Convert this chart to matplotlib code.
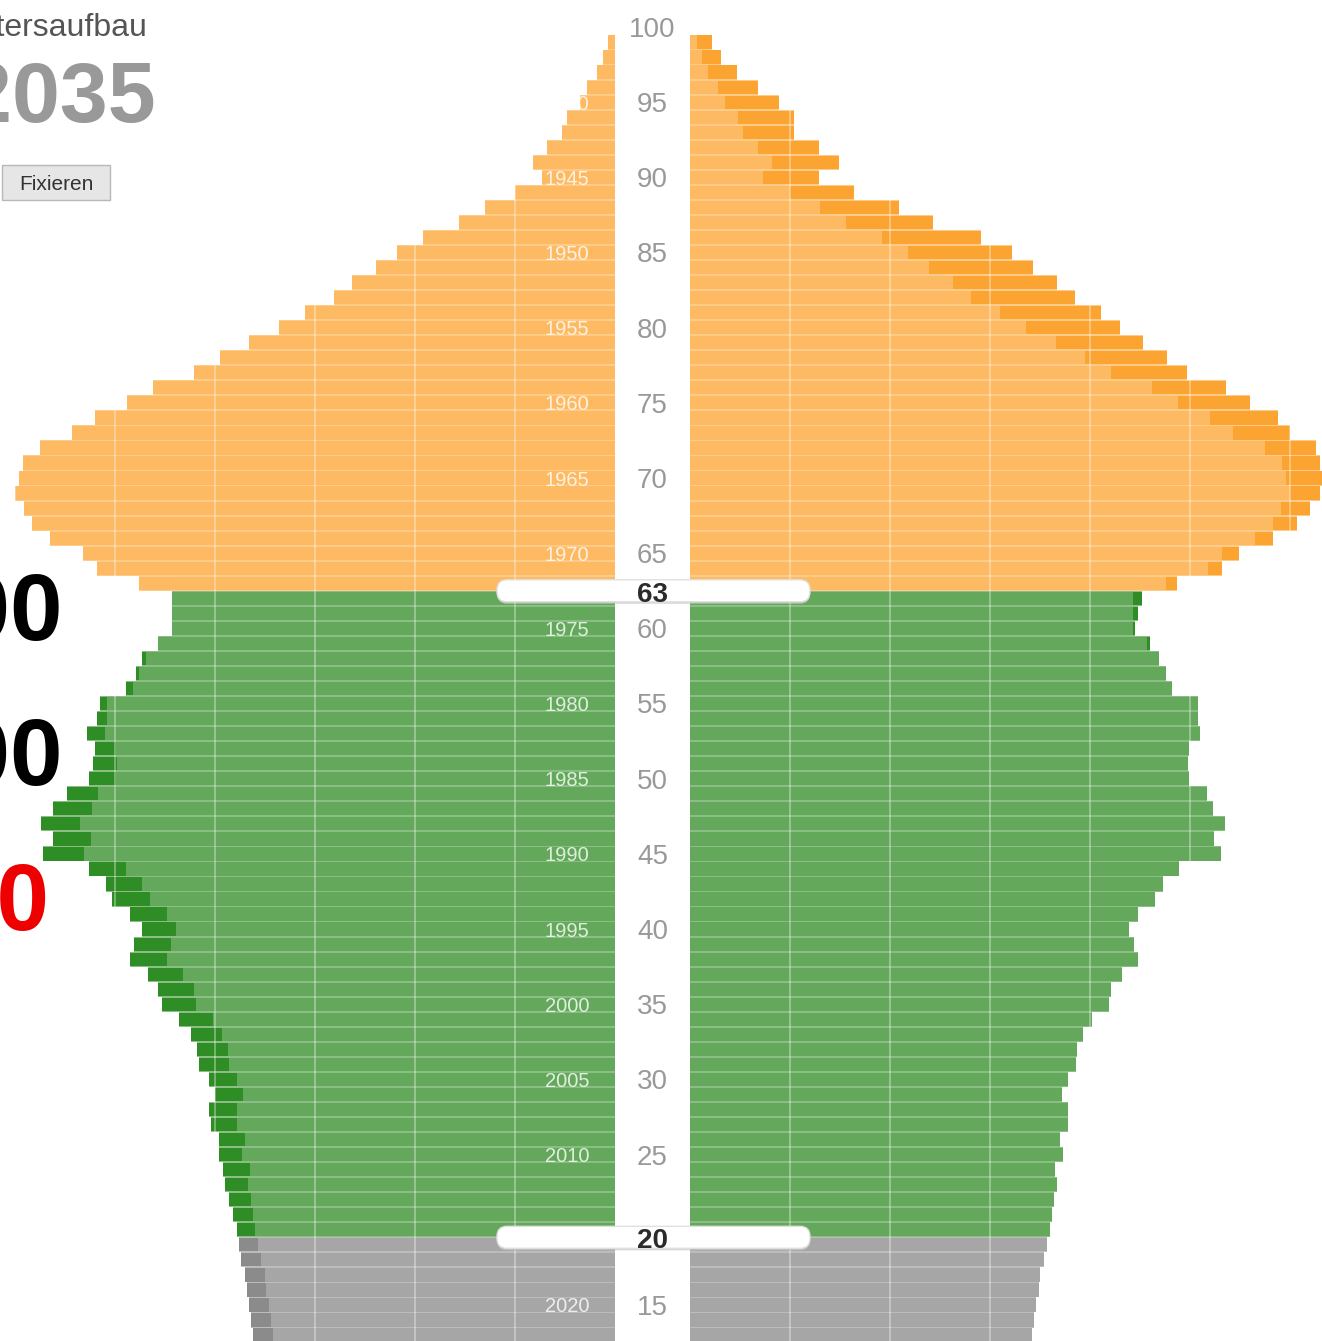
import numpy as np
import matplotlib.pyplot as plt
from matplotlib.patches import FancyBboxPatch, Rectangle
from matplotlib.colors import to_rgb

plt.rcParams['font.family'] = ['Liberation Sans', 'DejaVu Sans']

# population by single year of age in 2035, thousands (ages 99 down to 13)
ages = np.arange(99, 12, -1)
men = np.array([
    7, 12, 18, 28, 35, 48, 53, 68, 82, 73,
    100, 130, 156, 192, 218, 239, 263, 281, 310, 336,
    366, 395, 421, 462, 488, 520, 543, 575, 592, 596,
    600, 591, 583, 565, 532, 518, 476, 443, 443, 443,
    457, 473, 479, 489, 515, 518, 528, 520, 522, 526,
    548, 562, 574, 562, 572, 526, 509, 503, 485, 473,
    481, 485, 467, 457, 453, 436, 424, 418, 416, 406,
    400, 406, 404, 396, 396, 392, 390, 386, 382, 378,
    376, 374, 370, 368, 366, 364, 362])
women = np.array([
    22, 31, 47, 68, 89, 104, 104, 129, 149, 129,
    164, 209, 243, 291, 322, 343, 367, 385, 411, 430,
    453, 477, 497, 536, 560, 588, 600, 626, 630, 632,
    630, 620, 607, 583, 549, 532, 487, 452, 448, 445,
    460, 469, 476, 482, 508, 508, 510, 499, 498, 499,
    517, 523, 535, 524, 531, 489, 473, 465, 448, 439,
    444, 448, 432, 421, 419, 402, 393, 387, 386, 378,
    372, 378, 378, 370, 373, 365, 367, 364, 362, 360,
    357, 354, 350, 349, 346, 344, 342])

age_ticks = list(range(100, 14, -5))
year_shown = 2035
birth_years = [year_shown - a for a in age_ticks]
retire_age = 63
adult_age = 20

W, H = 1322, 1341
fig = plt.figure(figsize=(W / 100, H / 100), dpi=100)

px_per_year = 15.035
top_px = 27  # pixel row of the "100" label


def age_to_px(a):
    return top_px + (100 - a) * px_per_year


y_top = 100 + top_px / px_per_year
y_bot = 100 - (H - top_px) / px_per_year

left_edge, right_edge = 615, 690

light = {'old': '#FDBA62', 'work': '#63A85B', 'young': '#A6A6A6'}
dark = {'old': '#FBA431', 'work': '#2F8D25', 'young': '#8B8B8B'}


def group(a):
    if a >= retire_age:
        return 'old'
    if a >= adult_age:
        return 'work'
    return 'young'


def tint(c, f=0.25):
    r, g, b = to_rgb(c)
    return (r + (1 - r) * f, g + (1 - g) * f, b + (1 - b) * f)


groups = [group(a) for a in ages]
light_cols = [light[g] for g in groups]
dark_cols = [dark[g] for g in groups]
sep_cols = [tint(light[g]) for g in groups]

axL = fig.add_axes([0, 0, left_edge / W, 1])
axR = fig.add_axes([right_edge / W, 0, (W - right_edge) / W, 1])
axC = fig.add_axes([left_edge / W, 0, (right_edge - left_edge) / W, 1])


def draw_side(ax, own, other):
    common = np.minimum(own, other)
    ax.barh(ages, own, height=1.0, color=sep_cols, zorder=1)
    ax.barh(ages, own, height=0.88, color=dark_cols, zorder=2)
    ax.barh(ages, common, height=0.88, color=light_cols, zorder=2)
    for v in range(100, 700, 100):
        ax.axvline(v, color='white', alpha=0.4, lw=1.2, zorder=3)
    ax.set_ylim(y_bot, y_top)
    ax.axis('off')


draw_side(axL, men, women)
axL.set_xlim(left_edge, 0)
draw_side(axR, women, men)
axR.set_xlim(0, W - right_edge)

# labels under the sliders are covered in the original, so skip them
for a, yr in zip(age_ticks, birth_years):
    if a == adult_age:
        continue
    axL.text(48, a - 0.5, str(yr), ha='center', va='baseline', color='white',
             alpha=0.8, fontsize=14.5, zorder=4)

axC.set_xlim(0, 1)
axC.set_ylim(y_bot, y_top)
axC.axis('off')
for a in age_ticks:
    if a == adult_age:
        continue
    axC.text(0.5, a - 0.66, str(a), ha='center', va='baseline',
             color='#999999', fontsize=20)

ov = fig.add_axes([0, 0, 1, 1])
ov.set_xlim(0, W)
ov.set_ylim(H, 0)
ov.axis('off')

for a_s in (retire_age, adult_age):
    yc = age_to_px(a_s - 0.5) + 1
    ov.add_patch(FancyBboxPatch((497, yc - 10), 313, 22,
                                boxstyle='round,pad=0,rounding_size=10',
                                fc='#c8c8c8', ec='none', alpha=0.7, zorder=5))
    ov.add_patch(FancyBboxPatch((497, yc - 12), 313, 22,
                                boxstyle='round,pad=0,rounding_size=10',
                                fc='white', ec='#e0e0e0', lw=1, zorder=6))
    ov.text(652, yc + 10, str(a_s), ha='center', va='baseline',
            color='#2b2b2b', fontsize=20, fontweight='bold', zorder=7)

ov.text(148, 36, 'Altersaufbau', ha='right', va='baseline', fontsize=23,
        color='#555555')
ov.text(156, 122, str(year_shown), ha='right', va='baseline', fontsize=62,
        fontweight='bold', color='#999999')
ov.add_patch(Rectangle((2, 165), 108, 35, fc='#e6e6e6', ec='#b8b8b8', lw=1))
ov.text(56, 190, 'Fixieren', ha='center', va='baseline', fontsize=15,
        color='#333333')

ov.text(63, 640, '000', ha='right', va='baseline', fontsize=68,
        fontweight='bold', color='black')
ov.text(63, 785, '000', ha='right', va='baseline', fontsize=68,
        fontweight='bold', color='black')
ov.text(49, 930, '00', ha='right', va='baseline', fontsize=68,
        fontweight='bold', color='#ee0000')

fig.savefig('out.png', dpi=100)
